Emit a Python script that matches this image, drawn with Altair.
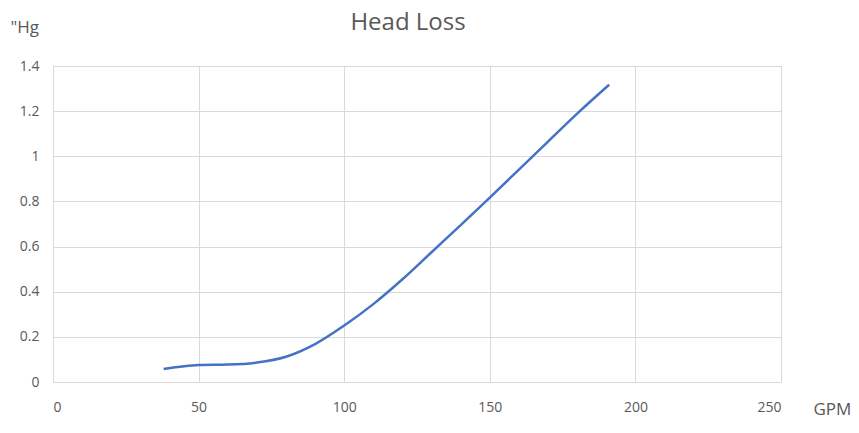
import altair as alt
import pandas as pd

gpm = [38, 45, 50, 60, 70, 80, 90, 100, 110, 120, 130, 140, 150, 160, 170, 180, 191]
hg = [0.058, 0.07, 0.075, 0.077, 0.086, 0.112, 0.168, 0.25, 0.345, 0.455, 0.575, 0.695, 0.817, 0.941, 1.065, 1.189, 1.317]

df = pd.DataFrame({"GPM": gpm, "Hg": hg})

FONT = "Open Sans"
GREY = "#595959"
GRID = "#d9d9d9"

chart = alt.Chart(df).mark_line(
    color="#4472c4", strokeWidth=2.5, interpolate="monotone"
).encode(
    x=alt.X("GPM:Q", scale=alt.Scale(domain=[0, 250], nice=False),
            axis=alt.Axis(values=[0, 50, 100, 150, 200, 250], title="GPM", format="d",
                          titleX=760, titleY=27, titleAlign="left", titleBaseline="middle",
                          titleFontSize=17, titleFontWeight="normal", titleColor=GREY, titleFont=FONT,
                          labelFontSize=14, labelColor=GREY, labelFont=FONT, labelPadding=18,
                          ticks=False, domainColor=GRID, gridColor=GRID)),
    y=alt.Y("Hg:Q", scale=alt.Scale(domain=[0, 1.4], nice=False),
            axis=alt.Axis(values=[0, 0.2, 0.4, 0.6, 0.8, 1, 1.2, 1.4], title='"Hg', format="~g",
                          titleAngle=0, titleX=-43, titleY=-39, titleAlign="left", titleBaseline="middle",
                          titleFontSize=17, titleFontWeight="normal", titleColor=GREY, titleFont=FONT,
                          labelFontSize=14, labelColor=GREY, labelFont=FONT, labelPadding=14,
                          ticks=False, domainColor=GRID, gridColor=GRID)),
).properties(
    width=728, height=316,
    title=alt.TitleParams("Head Loss", fontSize=24, fontWeight="normal", color=GREY, font=FONT,
                          anchor="middle", dx=-9, offset=0, dy=17),
    autosize=alt.AutoSizeParams(type="none"),
    padding={"left": 45, "top": 58, "right": 70, "bottom": 51},
).configure_view(stroke=None)

chart.save("out.html", embed_options={"renderer": "svg", "actions": False})
